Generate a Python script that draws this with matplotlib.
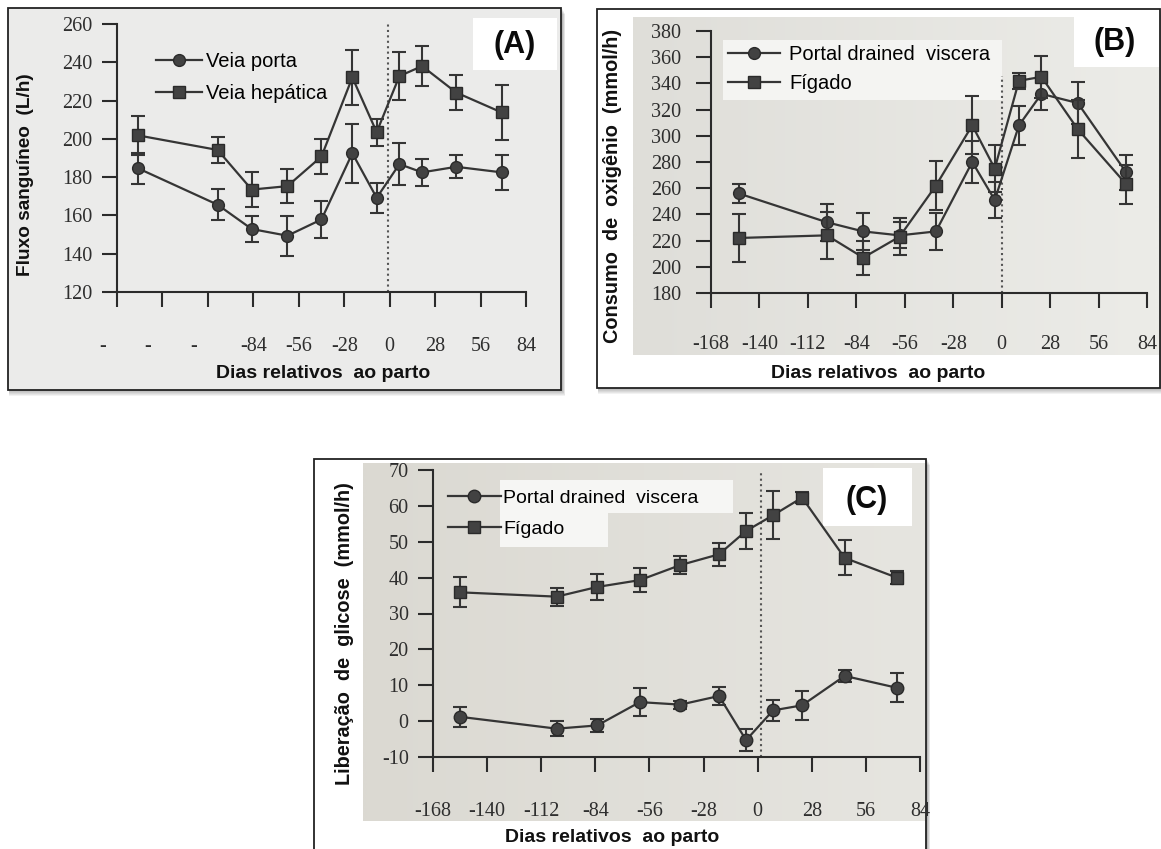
import numpy as np
import matplotlib
matplotlib.use("Agg")
import matplotlib.pyplot as plt
from matplotlib.patches import Rectangle
from matplotlib.colors import to_rgb
from matplotlib.transforms import blended_transform_factory

plt.rcParams['font.family'] = 'Liberation Serif'
plt.rcParams['axes.unicode_minus'] = False

W, H = 1161, 849
SANS = 'Liberation Sans'
INK = '#2e2e2e'

tick_days = [-168, -140, -112, -84, -56, -28, 0, 28, 56, 84]
tick_text = ['-168', '-140', '-112', '-84', '-56', '-28', '0', '28', '56', '84']
xlabel = 'Dias relativos  ao parto'

# (A) fluxo sanguíneo
dias_a = [-155, -106, -85, -63, -42, -23, -8, 6, 20, 41, 69]
porta = [184.6, 165.6, 152.9, 149.4, 157.9, 192.5, 169.2, 186.8, 182.5, 185.4, 182.5]
porta_err = [8, 8, 7, 10.5, 9.5, 15.5, 8, 11, 7, 6, 9]
hepatica = [201.8, 194.2, 173.5, 175.3, 190.8, 232.1, 203.5, 232.8, 238.0, 224.2, 213.8]
hepatica_err = [10, 7, 9, 9, 9, 14.5, 7, 12.5, 10.5, 9.3, 14.4]
yticks_a = [120, 140, 160, 180, 200, 220, 240, 260]

# (B) consumo de oxigênio
dias_b = [-152, -101, -80, -59, -38, -17, -4, 10, 23, 44, 72]
pdv_o2 = [256, 234, 227, 224, 227, 280, 251, 308, 332, 325, 272]
pdv_o2_err = [7, 14, 14, 10, 14, 16, 14, 15, 12, 16, 13]
figado_o2 = [222, 224, 207, 223, 262, 308, 275, 342, 345, 305, 263]
figado_o2_err = [18, 18, 13, 14, 19, 22, 18, 6, 16, 22, 15]
yticks_b = [180, 200, 220, 240, 260, 280, 300, 320, 340, 360, 380]

# (C) liberação de glicose
dias_c = [-154, -104, -83, -61, -40, -20, -6, 8, 23, 45, 72]
pdv_gl = [1.2, -2.1, -1.2, 5.3, 4.6, 7.0, -5.3, 3.0, 4.4, 12.6, 9.3]
pdv_gl_err = [2.7, 2.0, 1.7, 3.9, 1.1, 2.6, 3.0, 3.0, 4.0, 1.6, 4.0]
figado_gl = [35.9, 34.7, 37.4, 39.3, 43.5, 46.5, 53.0, 57.4, 62.3, 45.5, 40.0]
figado_gl_err = [4.2, 2.5, 3.5, 3.3, 2.4, 3.2, 5.0, 6.7, 1.5, 4.9, 1.9]
yticks_c = [-10, 0, 10, 20, 30, 40, 50, 60, 70]

fig = plt.figure(figsize=(W / 100, H / 100), dpi=100)

# pixel canvas for frames, shadows, white boxes and free text
bg = fig.add_axes([0, 0, 1, 1], zorder=0)
bg.set_xlim(0, W)
bg.set_ylim(H, 0)
bg.axis('off')


def frame(x0, y0, x1, y1, face):
    for k in range(1, 7):
        bg.add_patch(Rectangle((x0 + 1, y0 + k), x1 - x0 + k * 0.5, y1 - y0,
                               facecolor='black', alpha=0.05, lw=0, zorder=1))
    bg.add_patch(Rectangle((x0, y0), x1 - x0, y1 - y0, facecolor=face,
                           edgecolor='#222222', lw=1.3, zorder=1))


def box(x0, y0, x1, y1, color='white'):
    bg.add_patch(Rectangle((x0, y0), x1 - x0, y1 - y0, facecolor=color, lw=0, zorder=3))


def scan(x0, y0, x1, y1, left, right):
    # paper tone, slightly darker on the left side
    ramp = np.linspace(0, 1, 64)[None, :, None]
    img = np.array(to_rgb(left)) * (1 - ramp) + np.array(to_rgb(right)) * ramp
    bg.imshow(img, extent=(x0, x1, y1, y0), aspect='auto',
              interpolation='bilinear', zorder=2)
    bg.set_xlim(0, W)
    bg.set_ylim(H, 0)


def panel(left, right, top, bottom, ylim, yticks, ypad, xpad):
    ax = fig.add_axes([left / W, 1 - bottom / H, (right - left) / W, (bottom - top) / H], zorder=2)
    ax.patch.set_alpha(0)
    ax.set_xlim(-168, 84)
    ax.set_ylim(*ylim)
    ax.set_yticks(yticks)
    for s in ['top', 'right']:
        ax.spines[s].set_visible(False)
    for s in ['left', 'bottom']:
        ax.spines[s].set_color('#2b2b2b')
        ax.spines[s].set_linewidth(1.5)
    ax.tick_params(direction='out', length=10.5, width=1.5, color='#2b2b2b',
                   labelsize=14.5, labelcolor=INK)
    ax.tick_params(axis='y', pad=ypad)
    ax.tick_params(axis='x', pad=xpad)
    return ax


def series(ax, x, y, err, marker, label, ms=8.5):
    ax.errorbar(x, y, yerr=err, fmt='none', ecolor='#353535', elinewidth=1.5,
                capsize=5, capthick=1.5)
    ax.plot(x, y, color='#353535', lw=1.6, marker=marker, ms=ms,
            mfc='#424242', mec='#2a2a2a', label=label)


def legend(ax, x, y, size, hl, tp, ls):
    ax.legend(loc='upper left', bbox_to_anchor=(x / W, 1 - y / H),
              bbox_transform=fig.transFigure, frameon=False, borderpad=0,
              borderaxespad=0, handlelength=hl, handletextpad=tp,
              labelspacing=ls, prop={'family': SANS, 'size': size})


def ylab(x, y, text, size):
    bg.text(x, y, text, family=SANS, weight='bold', size=size, rotation=90,
            ha='center', va='center', color='#111111', zorder=4)


def xlab(x, y):
    bg.text(x, y, xlabel, family=SANS, weight='bold', size=14,
            ha='center', va='center', color='#111111', zorder=4)


def tag(x, y, text):
    bg.text(x, y, text, family=SANS, weight='bold', size=22, ha='center',
            va='center', color='#0a0a0a', zorder=4)


# ---- (A)
frame(8, 8, 561, 390, '#ebebea')
box(473, 18, 557, 70)
tag(515, 45, '(A)')
axA = panel(117, 526, 24, 292, (120, 260), yticks_a, 7, 22)
axA.set_xticks(tick_days)
axA.set_xticklabels(['', '', ''] + tick_text[3:])
short = blended_transform_factory(axA.transData, axA.transAxes)
for d in tick_days[:3]:
    axA.text(d - 9, -0.205, '-', transform=short, ha='center', va='center',
             size=14.5, color=INK)
axA.plot([-1, -1], [120, 260], color='#555555', lw=1.5, ls=(0, (1, 1.6)))
series(axA, dias_a, porta, porta_err, 'o', 'Veia porta')
series(axA, dias_a, hepatica, hepatica_err, 's', 'Veia hepática')
legend(axA, 156, 52, 14.5, 2.3, 0.2, 0.66)
ylab(26, 175, 'Fluxo sanguíneo  (L/h)', 13.7)
xlab(323, 373)

# ---- (B)
frame(597, 9, 1160, 388, 'white')
scan(633, 17, 1159, 355, '#dfded9', '#ecece8')
box(723, 40, 1002, 100, '#f4f4f2')
box(1074, 17, 1159, 67)
tag(1115, 42, '(B)')
axB = panel(711, 1147, 31, 293, (180, 380), yticks_b, 11, 20)
axB.set_xticks(tick_days)
axB.set_xticklabels(tick_text)
axB.plot([0, 0], [180, 346], color='#555555', lw=1.5, ls=(0, (1, 1.6)))
series(axB, dias_b, pdv_o2, pdv_o2_err, 'o', 'Portal drained  viscera')
series(axB, dias_b, figado_o2, figado_o2_err, 's', 'Fígado')
legend(axB, 728, 45, 14.5, 2.6, 0.45, 0.5)
ylab(613, 186, 'Consumo  de  oxigênio  (mmol/h)', 14.3)
xlab(878, 373)

# ---- (C)
frame(314, 459, 926, 880, 'white')
scan(363, 463, 925, 821, '#dbd9d2', '#e6e5e0')
box(500, 480, 733, 513, '#f6f6f4')
box(500, 513, 608, 547, '#f6f6f4')
box(823, 468, 912, 526)
tag(867, 500, '(C)')
axC = panel(433, 920, 470, 757, (-10, 70), yticks_c, 7, 22)
axC.set_xticks(tick_days)
axC.set_xticklabels(tick_text)
axC.plot([1.5, 1.5], [-10, 69.5], color='#555555', lw=1.5, ls=(0, (1, 1.6)))
series(axC, dias_c, pdv_gl, pdv_gl_err, 'o', 'Portal drained  viscera', ms=9)
series(axC, dias_c, figado_gl, figado_gl_err, 's', 'Fígado', ms=9)
legend(axC, 448, 489, 14, 2.7, 0.15, 0.7)
ylab(345, 634, 'Liberação  de  glicose  (mmol/h)', 14.3)
xlab(612, 838)

fig.savefig('out.png', dpi=100)
